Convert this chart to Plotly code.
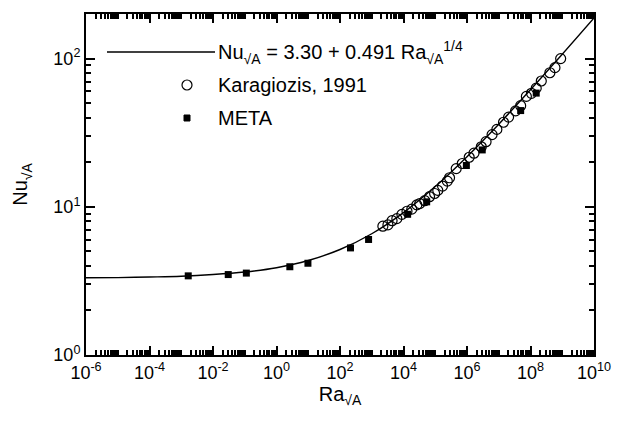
import plotly.graph_objects as go

# ---- data ----
curve_ra = [1e-6, 1e-5, 1e-4, 1e-3, 1e-2, 1e-1, 1e0, 1e1, 1e2, 1e3, 1e4, 1e5, 1e6, 1e7, 1e8, 1e9, 1e10]
curve_nu = [3.32, 3.33, 3.36, 3.40, 3.49, 3.63, 3.88, 4.34, 5.15, 6.58, 9.14, 13.7, 21.8, 36.1, 61.7, 107, 188]

karagiozis_logra = [3.35, 3.51, 3.64, 3.79, 3.95, 4.11, 4.26, 4.42, 4.51, 4.67, 4.82, 4.98, 5.08, 5.23,
                    5.38, 5.45, 5.66, 5.85, 6.07, 6.22, 6.45, 6.60, 6.79, 6.94, 7.15, 7.31, 7.53, 7.69,
                    7.87, 8.03, 8.18, 8.34, 8.61, 8.77, 8.95]
karagiozis_nu = [7.4, 7.55, 8.06, 8.32, 8.89, 9.33, 9.64, 10.3, 10.5, 11.0, 11.7, 12.3, 12.9, 13.8,
                 14.9, 15.7, 18.1, 19.6, 21.6, 23.0, 25.4, 27.5, 30.7, 33.3, 37.2, 40.3, 44.4, 48.1,
                 55.6, 58.3, 63.2, 70.6, 80.3, 86.9, 100]

meta_logra = [-2.78, -1.52, -0.95, 0.42, 0.99, 2.33, 2.90, 4.13, 4.73, 5.98, 6.48, 7.69, 8.18]
meta_nu = [3.42, 3.49, 3.57, 3.94, 4.16, 5.28, 6.02, 8.9, 10.8, 19.0, 24.2, 44.6, 58.5]

x_label_exps = [-6, -4, -2, 0, 2, 4, 6, 8, 10]
x_decades = list(range(-6, 10))
y_label_exps = [0, 1, 2]
y_decades = [0, 1, 2]
minor_digits = [2, 3, 4, 5, 6, 7, 8, 9]

legend_labels = ["Nu<sub>√A</sub> = 3.30 + 0.491 Ra<sub>√A</sub><sup>1/4</sup>",
                 "Karagiozis, 1991", "META"]

FONT = "Liberation Sans, Arial, Helvetica, sans-serif"
TS = 18

fig = go.Figure()
fig.add_trace(go.Scatter(x=curve_ra, y=curve_nu, mode="lines", line=dict(color="black", width=1.4, shape="spline"),
                         name=legend_labels[0], showlegend=False))
fig.add_trace(go.Scatter(x=[10 ** v for v in karagiozis_logra], y=karagiozis_nu, mode="markers",
                         marker=dict(symbol="circle-open", size=10, color="black", line=dict(width=1.2)),
                         name=legend_labels[1], showlegend=False))
fig.add_trace(go.Scatter(x=[10 ** v for v in meta_logra], y=meta_nu, mode="markers",
                         marker=dict(symbol="square", size=7, color="black"),
                         name=legend_labels[2], showlegend=False))

xt_vals = [10.0 ** e for e in x_label_exps]
xt_text = [f"10<sup>{e}</sup>" for e in x_label_exps]
x_minor = [d * 10.0 ** e for e in x_decades for d in minor_digits] + \
          [10.0 ** e for e in x_decades if e not in x_label_exps]
yt_vals = [10.0 ** e for e in y_label_exps]
yt_text = [f"10<sup>{e}</sup>" for e in y_label_exps]
y_minor = [d * 10.0 ** e for e in y_decades for d in minor_digits if d * 10.0 ** e <= 200]

axis_common = dict(showline=True, linecolor="black", linewidth=2, mirror="allticks", ticks="inside",
                   ticklen=9, tickwidth=2, tickcolor="black", showgrid=False, zeroline=False,
                   tickfont=dict(family=FONT, size=TS, color="black"))

fig.update_xaxes(type="log", range=[-6, 10], tickmode="array", tickvals=xt_vals, ticktext=xt_text,
                 minor=dict(tickmode="array", tickvals=x_minor, ticks="inside", ticklen=5, tickwidth=1.5,
                            tickcolor="black", showgrid=False),
                 title=dict(text="Ra<sub>√A</sub>", font=dict(family=FONT, size=TS + 2, color="black"), standoff=5),
                 **axis_common)
fig.update_yaxes(type="log", range=[0, 2.301], tickmode="array", tickvals=yt_vals, ticktext=yt_text,
                 minor=dict(tickmode="array", tickvals=y_minor, ticks="inside", ticklen=5, tickwidth=1.5,
                            tickcolor="black", showgrid=False),
                 title=dict(text="Nu<sub>√A</sub>", font=dict(family=FONT, size=TS + 2, color="black"), standoff=20),
                 **axis_common)

# plot area in screen pixels
FW, FH = 624, 423
L, R, T, B = 86, 594, 14, 355
W, H = R - L, B - T
def px(x): return (x - L) / W   # screen x -> paper
def py(y): return (B - y) / H   # screen y -> paper

rows_y = [52, 85, 118]
fig.add_shape(type="line", xref="paper", yref="paper", x0=px(107), x1=px(215), y0=py(rows_y[0]), y1=py(rows_y[0]),
              line=dict(color="black", width=1.4))
fig.add_shape(type="circle", xref="paper", yref="paper", x0=px(182), x1=px(192), y0=py(rows_y[1] - 5), y1=py(rows_y[1] + 5),
              line=dict(color="black", width=1.2))
fig.add_shape(type="rect", xref="paper", yref="paper", x0=px(184), x1=px(190), y0=py(rows_y[2] - 3), y1=py(rows_y[2] + 3),
              line=dict(color="black", width=1), fillcolor="black")
for ry, lab in zip(rows_y, legend_labels):
    fig.add_annotation(xref="paper", yref="paper", x=px(216), y=py(ry), text=lab, showarrow=False,
                       xanchor="left", yanchor="middle", font=dict(family=FONT, size=20, color="black"))

fig.update_layout(width=FW, height=FH, margin=dict(l=L, r=FW - R, t=T, b=FH - B),
                  paper_bgcolor="white", plot_bgcolor="white", showlegend=False,
                  font=dict(family=FONT, color="black"))

# remove the browser's default 8 px page margin so the figure sits at the window origin
fig.write_html("out.html", config={"displayModeBar": False},
               post_script="document.body.style.margin='0px';document.body.style.overflow='hidden';")
